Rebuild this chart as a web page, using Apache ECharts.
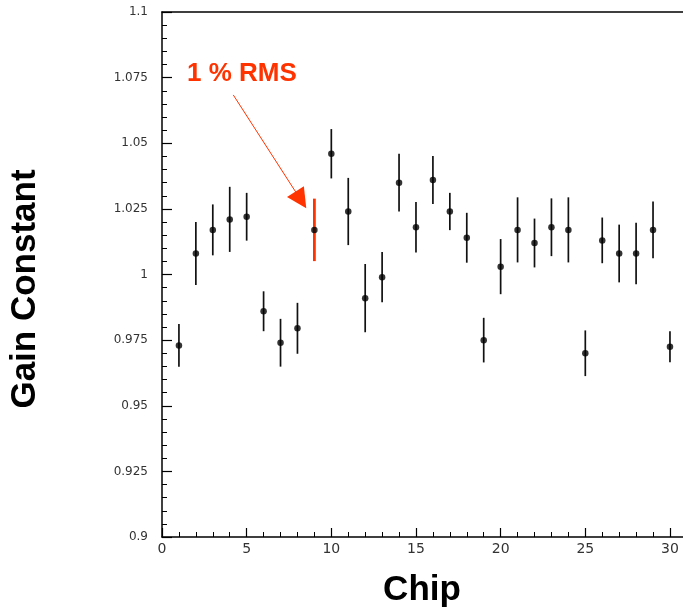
<!DOCTYPE html>
<html>
<head>
<meta charset="utf-8">
<style>
  html, body { margin: 0; padding: 0; background: #fff; }
  #chart { width: 683px; height: 612px; }
</style>
<script src="https://cdn.jsdelivr.net/npm/echarts@6/dist/echarts.min.js"></script>
</head>
<body>
<div id="chart"></div>
<script>
// Gain constant per chip, with its uncertainty
const chips = [1, 2, 3, 4, 5, 6, 7, 8, 9, 10, 11, 12, 13, 14, 15,
               16, 17, 18, 19, 20, 21, 22, 23, 24, 25, 26, 27, 28, 29, 30];
const gain = [0.973, 1.008, 1.017, 1.021, 1.022, 0.986, 0.974, 0.9795, 1.017, 1.046,
              1.024, 0.991, 0.999, 1.035, 1.018, 1.036, 1.024, 1.014, 0.975, 1.003,
              1.017, 1.012, 1.018, 1.017, 0.970, 1.013, 1.008, 1.008, 1.017, 0.9725];
const gainErr = [0.0081, 0.012, 0.0097, 0.0124, 0.0091, 0.0076, 0.0091, 0.0097, 0.0119, 0.0094,
                 0.0128, 0.013, 0.0096, 0.011, 0.0096, 0.0091, 0.0071, 0.0095, 0.0085, 0.0105,
                 0.0124, 0.0093, 0.011, 0.0124, 0.0087, 0.0087, 0.011, 0.0117, 0.0108, 0.0059];
// chip whose error bar is highlighted as the 1 % RMS spread
const highlightChip = 9;

const xMajorTicks = [0, 5, 10, 15, 20, 25, 30];
const xMinorTicks = [1, 2, 3, 4, 6, 7, 8, 9, 11, 12, 13, 14, 16, 17, 18, 19,
                     21, 22, 23, 24, 26, 27, 28, 29];
const yMin = 0.9, yMax = 1.1, yStep = 0.025, yMinorStep = 0.005;

const noteText = '1 % RMS';
const xTitle = 'Chip';
const yTitle = 'Gain Constant';

const ACCENT = '#ff3300';

// minor y ticks between the labelled ones
const yMinorTicks = [];
for (let k = 1; k < Math.round((yMax - yMin) / yMinorStep); k++) {
  if (k % 5 !== 0) yMinorTicks.push(+(yMin + k * yMinorStep).toFixed(4));
}

const points = chips.map((c, i) => [c, gain[i], gainErr[i]]);

const chart = echarts.init(document.getElementById('chart'), null, { renderer: 'canvas' });

const baseX = { type: 'value', min: 0, max: 30.77, splitLine: { show: false } };
const baseY = { type: 'value', min: yMin, max: yMax, interval: yStep, splitLine: { show: false } };

chart.setOption({
  animation: false,
  backgroundColor: '#fff',
  grid: { left: 162, top: 12, right: 0, bottom: 75 },
  xAxis: [
    Object.assign({}, baseX, {
      position: 'bottom',
      axisLine: { show: true, lineStyle: { color: '#000', width: 1.5 } },
      axisTick: { show: true, inside: true, length: 9, customValues: xMajorTicks,
                  lineStyle: { color: '#000', width: 1.2 } },
      axisLabel: { show: true, margin: 5, customValues: xMajorTicks,
                   fontFamily: 'DejaVu Sans', fontSize: 14, color: '#333' }
    }),
    Object.assign({}, baseX, {
      position: 'bottom',
      axisLine: { show: false },
      axisTick: { show: true, inside: true, length: 5, customValues: xMinorTicks,
                  lineStyle: { color: '#000', width: 1 } },
      axisLabel: { show: false }
    }),
    Object.assign({}, baseX, {
      position: 'top',
      axisLine: { show: true, lineStyle: { color: '#000', width: 1.5 } },
      axisTick: { show: false },
      axisLabel: { show: false }
    })
  ],
  yAxis: [
    Object.assign({}, baseY, {
      position: 'left',
      axisLine: { show: true, lineStyle: { color: '#000', width: 1.5 } },
      axisTick: { show: true, inside: true, length: 10, lineStyle: { color: '#000', width: 1.2 } },
      axisLabel: { margin: 14, fontFamily: 'DejaVu Sans', fontSize: 12, color: '#333' }
    }),
    Object.assign({}, baseY, {
      position: 'left',
      axisLine: { show: false },
      axisTick: { show: true, inside: true, length: 5, customValues: yMinorTicks,
                  lineStyle: { color: '#000', width: 1 } },
      axisLabel: { show: false }
    })
  ],
  series: [
    {
      // vertical error bars
      type: 'custom',
      xAxisIndex: 0,
      yAxisIndex: 0,
      data: points,
      z: 2,
      renderItem: function (params, api) {
        const x = api.value(0), v = api.value(1), e = api.value(2);
        const lo = api.coord([x, v - e]);
        const hi = api.coord([x, v + e]);
        const hot = x === highlightChip;
        return {
          type: 'line',
          shape: { x1: lo[0], y1: lo[1], x2: hi[0], y2: hi[1] },
          style: { stroke: hot ? ACCENT : '#111', lineWidth: hot ? 2.8 : 1.7 }
        };
      }
    },
    {
      // central values
      type: 'scatter',
      xAxisIndex: 0,
      yAxisIndex: 0,
      data: points.map(p => [p[0], p[1]]),
      symbol: 'circle',
      symbolSize: 6.5,
      itemStyle: { color: '#000' },
      z: 3,
      markLine: {
        silent: true,
        symbol: ['none', 'triangle'],
        symbolSize: 20,
        label: { show: false },
        emphasis: { disabled: true },
        lineStyle: { color: ACCENT, width: 1, type: 'solid' },
        itemStyle: { color: ACCENT },
        data: [[{ coord: [4.21, 1.0684] }, { coord: [8.2, 1.0284] }]]
      }
    }
  ],
  graphic: [
    {
      type: 'text', x: 187, y: 74,
      style: { text: noteText, fill: ACCENT, font: 'bold 26px "Liberation Sans"',
               align: 'left', verticalAlign: 'middle' }
    },
    {
      type: 'text', x: 422, y: 590,
      style: { text: xTitle, fill: '#000', font: 'bold 35px "Liberation Sans"',
               align: 'center', verticalAlign: 'middle' }
    },
    {
      type: 'text', x: 25, y: 289, rotation: Math.PI / 2,
      style: { text: yTitle, fill: '#000', font: 'bold 35px "Liberation Sans"',
               align: 'center', verticalAlign: 'middle' }
    }
  ]
});
</script>
</body>
</html>
